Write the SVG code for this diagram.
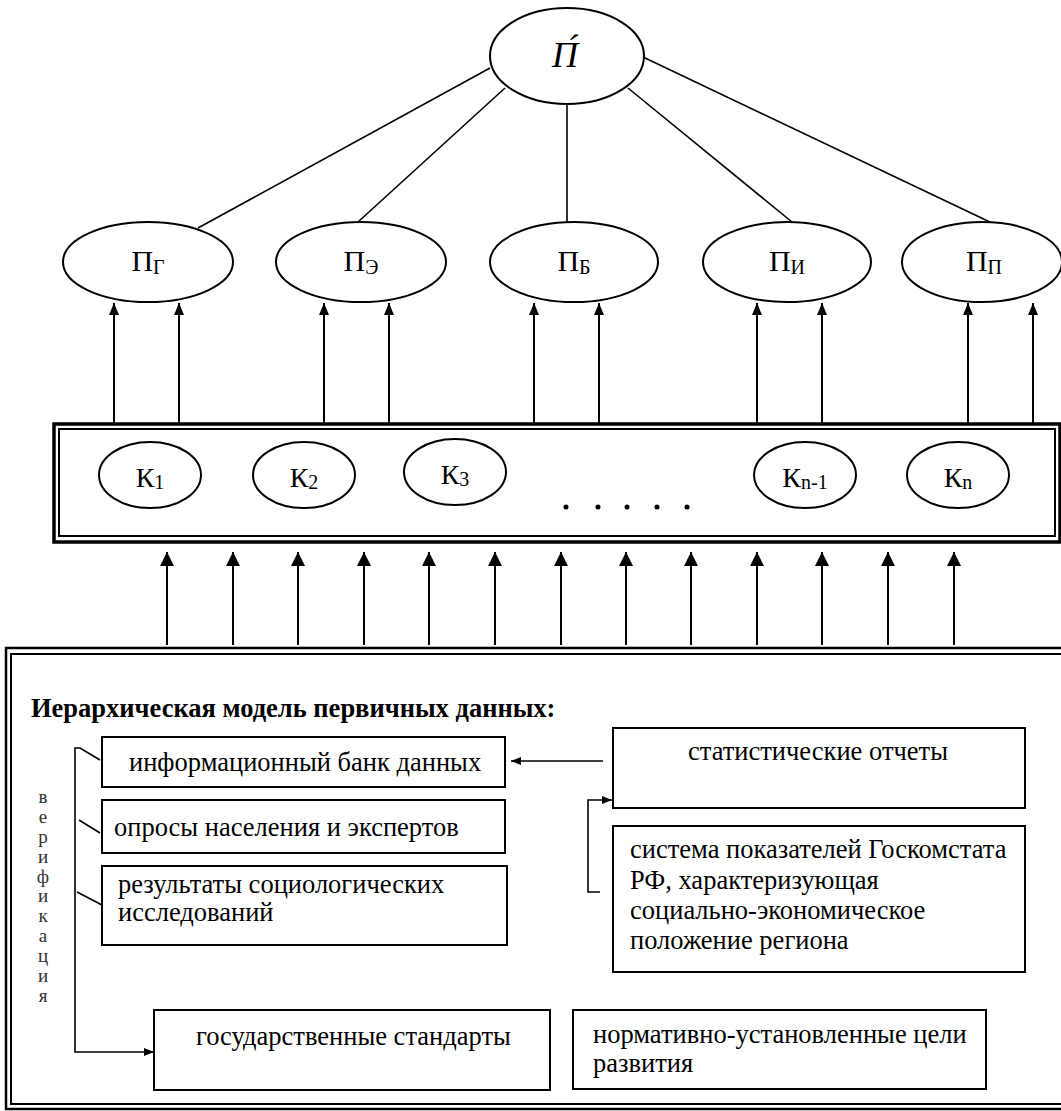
<svg xmlns="http://www.w3.org/2000/svg" width="1061" height="1111" viewBox="0 0 1061 1111">
<style>
text{font-family:'Liberation Serif','Times New Roman',serif;fill:#000}
.node ellipse{fill:#fff;stroke:#000;stroke-width:2}
.box rect{fill:#fff;stroke:#000;stroke-width:2}
.lbl{font-size:30px}
.sub{font-size:20px}
.k{font-size:28px}
.t{font-size:26.5px}
.ver{font-size:19px;fill:#333}
.ln{stroke:#000;stroke-width:1.6;fill:none}
.ar{stroke:#000;stroke-width:2;fill:none}
</style>
<defs>
<marker id="ahS" markerUnits="userSpaceOnUse" markerWidth="12" markerHeight="10" viewBox="0 0 12 10" refX="12" refY="5" orient="auto"><path d="M0,0 L12,5 L0,10 z" fill="#000"/></marker>
<marker id="ahL" markerUnits="userSpaceOnUse" markerWidth="14" markerHeight="14" viewBox="0 0 14 14" refX="14" refY="7" orient="auto"><path d="M0,0 L14,7 L0,14 z" fill="#000"/></marker>
<marker id="ahT" markerUnits="userSpaceOnUse" markerWidth="10" markerHeight="8" viewBox="0 0 10 8" refX="10" refY="4" orient="auto"><path d="M0,0 L10,4 L0,8 z" fill="#000"/></marker>
</defs>
<rect x="0" y="0" width="1061" height="1111" fill="#fff"/>

<g id="connectors">
  <line class="ln" x1="490" y1="68" x2="198" y2="228"/>
  <line class="ln" x1="505" y1="88" x2="358" y2="222"/>
  <line class="ln" x1="567" y1="104" x2="567" y2="222"/>
  <line class="ln" x1="628" y1="88" x2="792" y2="222"/>
  <line class="ln" x1="643" y1="57" x2="992" y2="223"/>
  <g class="ar" marker-end="url(#ahS)">
    <line x1="114" y1="423" x2="114" y2="303"/>
    <line x1="179" y1="423" x2="179" y2="303"/>
    <line x1="324" y1="423" x2="324" y2="303"/>
    <line x1="389" y1="423" x2="389" y2="303"/>
    <line x1="534" y1="423" x2="534" y2="303"/>
    <line x1="599" y1="423" x2="599" y2="303"/>
    <line x1="757" y1="423" x2="757" y2="303"/>
    <line x1="822" y1="423" x2="822" y2="303"/>
    <line x1="968" y1="423" x2="968" y2="303"/>
    <line x1="1033" y1="423" x2="1033" y2="303"/>
  </g>
  <g class="ar" marker-end="url(#ahL)">
    <line x1="167" y1="645" x2="167" y2="552"/>
    <line x1="233" y1="645" x2="233" y2="552"/>
    <line x1="298" y1="645" x2="298" y2="552"/>
    <line x1="364" y1="645" x2="364" y2="552"/>
    <line x1="429" y1="645" x2="429" y2="552"/>
    <line x1="495" y1="645" x2="495" y2="552"/>
    <line x1="561" y1="645" x2="561" y2="552"/>
    <line x1="626" y1="645" x2="626" y2="552"/>
    <line x1="691" y1="645" x2="691" y2="552"/>
    <line x1="757" y1="645" x2="757" y2="552"/>
    <line x1="822" y1="645" x2="822" y2="552"/>
    <line x1="888" y1="645" x2="888" y2="552"/>
    <line x1="954" y1="645" x2="954" y2="552"/>
  </g>
  <line class="ln" x1="603" y1="761" x2="511" y2="761" marker-end="url(#ahT)"/>
  <polyline class="ln" points="600,892 588,892 588,800 612,800" marker-end="url(#ahT)"/>
  <polyline class="ln" points="100,760 80,748 75,748 75,1052 154,1052" stroke-width="2" marker-end="url(#ahT)"/>
  <line class="ln" x1="79" y1="820" x2="100" y2="833"/>
  <line class="ln" x1="77" y1="892" x2="102" y2="905"/>
</g>

<g id="node-P" class="node">
  <ellipse cx="567" cy="56" rx="77" ry="48" stroke-width="3"/>
  <text x="565" y="67" font-size="36" font-style="italic" text-anchor="middle">П́</text>
</g>
<g id="node-PG" class="node">
  <ellipse cx="148" cy="262" rx="85" ry="40"/>
  <text class="lbl" x="148" y="271" text-anchor="middle">П<tspan class="sub" dy="3">Г</tspan></text>
</g>
<g id="node-PE" class="node">
  <ellipse cx="361" cy="262" rx="85" ry="40"/>
  <text class="lbl" x="361" y="271" text-anchor="middle">П<tspan class="sub" dy="3">Э</tspan></text>
</g>
<g id="node-PB" class="node">
  <ellipse cx="574" cy="262" rx="84" ry="40"/>
  <text class="lbl" x="574" y="271" text-anchor="middle">П<tspan class="sub" dy="3">Б</tspan></text>
</g>
<g id="node-PI" class="node">
  <ellipse cx="787" cy="262" rx="84" ry="40"/>
  <text class="lbl" x="787" y="271" text-anchor="middle">П<tspan class="sub" dy="3">И</tspan></text>
</g>
<g id="node-PP" class="node">
  <ellipse cx="982" cy="262" rx="80" ry="40"/>
  <text class="lbl" x="984" y="271" text-anchor="middle">П<tspan class="sub" dy="3">П</tspan></text>
</g>

<g id="node-K-panel">
  <rect x="54" y="424" width="1006" height="118" fill="none" stroke="#000" stroke-width="3.5"/>
  <rect x="59" y="429" width="996" height="107" fill="none" stroke="#000" stroke-width="2"/>
  <circle cx="566" cy="507" r="2.5"/>
  <circle cx="598" cy="507" r="2.5"/>
  <circle cx="627" cy="507" r="2.5"/>
  <circle cx="657" cy="507" r="2.5"/>
  <circle cx="687" cy="507" r="2.5"/>
</g>
<g id="node-K1" class="node">
  <ellipse cx="150" cy="475" rx="51" ry="33"/>
  <text class="k" x="150" y="487" text-anchor="middle">К<tspan class="sub" dy="2">1</tspan></text>
</g>
<g id="node-K2" class="node">
  <ellipse cx="304" cy="475" rx="51" ry="33"/>
  <text class="k" x="304" y="487" text-anchor="middle">К<tspan class="sub" dy="2">2</tspan></text>
</g>
<g id="node-K3" class="node">
  <ellipse cx="455" cy="472" rx="51" ry="33"/>
  <text class="k" x="455" y="484" text-anchor="middle">К<tspan class="sub" dy="2">3</tspan></text>
</g>
<g id="node-Kn1" class="node">
  <ellipse cx="805" cy="475" rx="51" ry="33"/>
  <text class="k" x="805" y="487" text-anchor="middle">К<tspan class="sub" dy="2">n-1</tspan></text>
</g>
<g id="node-Kn" class="node">
  <ellipse cx="958" cy="475" rx="51" ry="33"/>
  <text class="k" x="958" y="487" text-anchor="middle">К<tspan class="sub" dy="2">n</tspan></text>
</g>

<g id="node-data-panel">
  <rect x="6" y="648" width="1064" height="461" fill="none" stroke="#000" stroke-width="2.5"/>
  <rect x="11" y="654" width="1054" height="450" fill="none" stroke="#000" stroke-width="2"/>
  <text x="31" y="717" font-size="26.5" font-weight="bold">Иерархическая модель первичных данных:</text>
  <g class="ver" text-anchor="middle">
    <text class="ver" x="43" y="803">в</text>
    <text class="ver" x="43" y="823">е</text>
    <text class="ver" x="43" y="843">р</text>
    <text class="ver" x="43" y="863">и</text>
    <text class="ver" x="43" y="883">ф</text>
    <text class="ver" x="43" y="902">и</text>
    <text class="ver" x="43" y="922">к</text>
    <text class="ver" x="43" y="942">а</text>
    <text class="ver" x="43" y="962">ц</text>
    <text class="ver" x="43" y="982">и</text>
    <text class="ver" x="43" y="1002">я</text>
  </g>
</g>
<g id="node-bank" class="box">
  <rect x="102" y="737" width="403" height="50"/>
  <text class="t" x="129" y="771">информационный банк данных</text>
</g>
<g id="node-oprosy" class="box">
  <rect x="102" y="800" width="403" height="53"/>
  <text class="t" x="114" y="836">опросы населения и экспертов</text>
</g>
<g id="node-socio" class="box">
  <rect x="102" y="866" width="405" height="79"/>
  <text class="t" x="118" y="893">результаты социологических</text>
  <text class="t" x="118" y="921">исследований</text>
</g>
<g id="node-gost" class="box">
  <rect x="154" y="1010" width="396" height="80"/>
  <text class="t" x="196" y="1045">государственные стандарты</text>
</g>
<g id="node-norm" class="box">
  <rect x="573" y="1010" width="413" height="79"/>
  <text class="t" x="593" y="1043">нормативно-установленные цели</text>
  <text class="t" x="593" y="1072">развития</text>
</g>
<g id="node-stat" class="box">
  <rect x="613" y="728" width="412" height="80"/>
  <text class="t" x="818" y="760" text-anchor="middle">статистические отчеты</text>
</g>
<g id="node-goskomstat" class="box">
  <rect x="613" y="826" width="412" height="146"/>
  <text class="t" x="630" y="858">система показателей Госкомстата</text>
  <text class="t" x="630" y="889">РФ, характеризующая</text>
  <text class="t" x="630" y="919">социально-экономическое</text>
  <text class="t" x="630" y="949">положение региона</text>
</g>
</svg>
